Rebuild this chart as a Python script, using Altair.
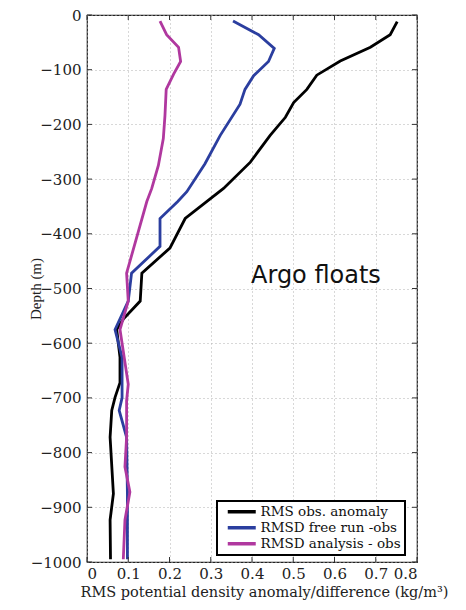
import altair as alt
import pandas as pd

# Series data (depth in m, value in kg/m^3)
black_depth = [-12, -36, -59, -84, -110, -136, -160, -187, -220, -269, -317, -341, -372, -426,
               -472, -523, -556, -575, -626, -672, -699, -723, -772, -875, -923, -995]
black_val = [0.752, 0.735, 0.687, 0.614, 0.557, 0.533, 0.501, 0.481, 0.444, 0.396, 0.331, 0.290,
             0.238, 0.201, 0.133, 0.129, 0.088, 0.072, 0.080, 0.080, 0.068, 0.060, 0.056, 0.064,
             0.056, 0.057]

blue_depth = [-11, -36, -61, -85, -111, -136, -163, -220, -272, -323, -341, -372, -423, -472,
              -523, -575, -626, -700, -723, -772, -875, -995]
blue_val = [0.354, 0.416, 0.454, 0.440, 0.404, 0.383, 0.371, 0.323, 0.286, 0.242, 0.220, 0.177,
            0.177, 0.108, 0.100, 0.068, 0.085, 0.085, 0.078, 0.096, 0.098, 0.098]

mag_depth = [-11, -36, -59, -85, -108, -136, -184, -226, -275, -317, -341, -472, -523, -575,
             -675, -705, -772, -826, -872, -923, -995]
mag_val = [0.177, 0.193, 0.222, 0.227, 0.210, 0.192, 0.189, 0.185, 0.173, 0.157, 0.145, 0.096,
           0.100, 0.080, 0.100, 0.096, 0.096, 0.092, 0.104, 0.092, 0.088]

series_names = ["RMS obs. anomaly", "RMSD free run -obs", "RMSD analysis - obs"]
series_colors = ["#000000", "#2b3e9f", "#b0389f"]

x_ticks = [0, 0.1, 0.2, 0.3, 0.4, 0.5, 0.6, 0.7, 0.8]
y_ticks = [0, -100, -200, -300, -400, -500, -600, -700, -800, -900, -1000]

annot_text = ["Argo floats"]
annot_x = [0.555]
annot_y = [-478]

W, H = 330, 547

rows = []
for name, dep, val in [(series_names[0], black_depth, black_val),
                       (series_names[1], blue_depth, blue_val),
                       (series_names[2], mag_depth, mag_val)]:
    for i, (d, v) in enumerate(zip(dep, val)):
        rows.append({"series": name, "depth": d, "value": v, "idx": i})
df = pd.DataFrame(rows)

xscale = alt.Scale(domain=[0, 0.8], nice=False, zero=False)
yscale = alt.Scale(domain=[-1000, 0], nice=False, zero=False)

serif = "DejaVu Serif"

lines = alt.Chart(df).mark_line(strokeWidth=2.8, clip=True).encode(
    x=alt.X("value:Q", scale=xscale,
            axis=alt.Axis(values=x_ticks, format="~g", ticks=False, grid=True,
                          gridDash=[1, 3], gridColor="#b0b0b0", gridWidth=1,
                          labelFont=serif, labelFontSize=15, labelColor="#222",
                          labelPadding=4, domain=False,
                          title="RMS potential density anomaly/difference (kg/m³)",
                          titleFont=serif, titleFontSize=14.5, titleFontWeight="normal",
                          titleColor="#222", titlePadding=4, titleX=177)),
    y=alt.Y("depth:Q", scale=yscale,
            axis=alt.Axis(values=y_ticks, format="d", ticks=False, grid=True,
                          gridDash=[1, 3], gridColor="#b0b0b0", gridWidth=1,
                          labelFont=serif, labelFontSize=15, labelColor="#222",
                          labelPadding=6, domain=False,
                          title="Depth (m)", titleFont="Liberation Serif",
                          titleFontSize=15, titleFontWeight="normal", titleColor="#222",
                          titleX=-44)),
    color=alt.Color("series:N",
                    scale=alt.Scale(domain=series_names, range=series_colors),
                    legend=alt.Legend(title=None, orient="none", legendX=130, legendY=486,
                                      symbolType="M-3.5,0H3.5", symbolStrokeWidth=3.5,
                                      symbolSize=64, symbolOffset=14,
                                      labelFont=serif, labelFontSize=13.5,
                                      labelColor="#111", strokeColor="#000",
                                      fillColor="white", padding=4, rowPadding=1,
                                      labelOffset=12, labelLimit=300)),
    order=alt.Order("idx:Q"),
)

xt = pd.DataFrame({"v": x_ticks})
yt = pd.DataFrame({"v": y_ticks})

tick_color = "#333"
bot = alt.Chart(xt).mark_rule(color=tick_color, strokeWidth=1).encode(
    x=alt.X("v:Q", scale=xscale), y=alt.value(H), y2=alt.value(H - 5))
top = alt.Chart(xt).mark_rule(color=tick_color, strokeWidth=1).encode(
    x=alt.X("v:Q", scale=xscale), y=alt.value(0), y2=alt.value(5))
lef = alt.Chart(yt).mark_rule(color=tick_color, strokeWidth=1).encode(
    y=alt.Y("v:Q", scale=yscale), x=alt.value(0), x2=alt.value(5))
rig = alt.Chart(yt).mark_rule(color=tick_color, strokeWidth=1).encode(
    y=alt.Y("v:Q", scale=yscale), x=alt.value(W), x2=alt.value(W - 5))

annot = alt.Chart(pd.DataFrame({"t": annot_text, "x": annot_x, "y": annot_y})).mark_text(
    font="DejaVu Sans", fontSize=24, color="#111", align="center", baseline="middle"
).encode(x=alt.X("x:Q", scale=xscale), y=alt.Y("y:Q", scale=yscale), text="t:N")

chart = alt.layer(lines, bot, top, lef, rig, annot).properties(
    width=W, height=H,
    autosize=alt.AutoSizeParams(type="none"),
    padding={"left": 79, "top": 7, "right": 40, "bottom": 40},
).configure_view(stroke="#222", strokeWidth=1.2).configure_legend(strokeWidth=2)

chart.save("out.html", embed_options={"renderer": "svg", "actions": False})
